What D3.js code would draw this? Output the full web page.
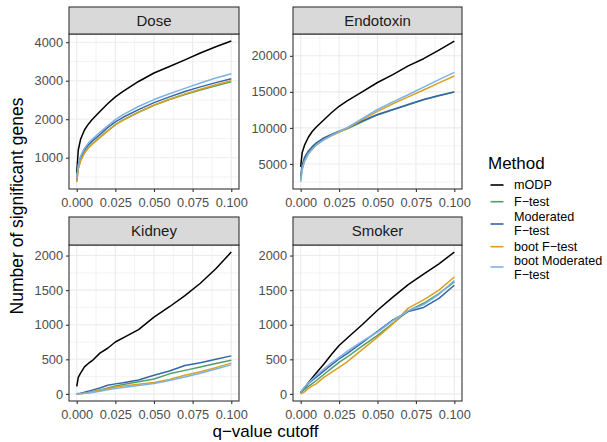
<!DOCTYPE html>
<html><head><meta charset="utf-8">
<script src="https://cdn.jsdelivr.net/npm/d3@7"></script>
<style>html,body{margin:0;padding:0;background:#fff;}svg{display:block;font-family:"Liberation Sans",Arial,Helvetica,sans-serif;}</style>
</head><body>
<svg id="chart" width="607" height="442"></svg>
<script>
const qValues = [0, 0.001, 0.0025, 0.005, 0.0075, 0.01, 0.015, 0.02, 0.025, 0.03, 0.04, 0.05, 0.06, 0.07, 0.08, 0.09, 0.1];
const methods = ["mODP", "F-test", "Moderated F-test", "boot F-test", "boot Moderated F-test"];
const legendLabels = [["mODP"], ["F\u2212test"], ["Moderated", "F\u2212test"], ["boot F\u2212test"], ["boot Moderated", "F\u2212test"]];
const colors = ["#000000", "#4F9E6B", "#3466A8", "#D9A021", "#7DB2E6"];
const panels = ["Dose", "Endotoxin", "Kidney", "Smoker"];
const xTicks = [0, 0.025, 0.05, 0.075, 0.1];
const yTicksDose = [1000, 2000, 3000, 4000];
const yTicksEndotoxin = [5000, 10000, 15000, 20000];
const yTicksKidney = [0, 500, 1000, 1500, 2000];
const yTicksSmoker = [0, 500, 1000, 1500, 2000];

const doseValues = [
  [600, 1200, 1480, 1720, 1870, 1990, 2200, 2400, 2580, 2720, 2980, 3200, 3370, 3540, 3720, 3880, 4030],
  [380, 720, 930, 1130, 1260, 1360, 1530, 1700, 1860, 1980, 2180, 2360, 2510, 2640, 2760, 2870, 2970],
  [450, 800, 1010, 1200, 1330, 1430, 1600, 1780, 1930, 2050, 2250, 2430, 2580, 2720, 2840, 2950, 3050],
  [370, 710, 920, 1120, 1250, 1350, 1520, 1690, 1850, 1975, 2185, 2370, 2520, 2655, 2780, 2895, 3000],
  [480, 820, 1040, 1240, 1380, 1480, 1660, 1830, 1990, 2120, 2330, 2510, 2660, 2800, 2940, 3070, 3180]
];
const endotoxinValues = [
  [4600, 6600, 7600, 8700, 9500, 10100, 11100, 12100, 13000, 13700, 15000, 16300, 17400, 18600, 19600, 20800, 22050],
  [3000, 4700, 5700, 6650, 7250, 7750, 8450, 9000, 9450, 9850, 10850, 11800, 12500, 13200, 13900, 14450, 14980],
  [3200, 4900, 5900, 6800, 7400, 7900, 8600, 9100, 9550, 9950, 10950, 11850, 12550, 13250, 13950, 14500, 15000],
  [2700, 4300, 5400, 6400, 7050, 7600, 8350, 8900, 9400, 9900, 11150, 12300, 13350, 14300, 15250, 16250, 17200],
  [2500, 4200, 5350, 6400, 7050, 7600, 8350, 8950, 9480, 10000, 11300, 12550, 13600, 14600, 15650, 16700, 17700]
];
const kidneyValues = [
  [110, 240, 300, 390, 440, 480, 590, 660, 750, 810, 930, 1110, 1260, 1420, 1600, 1810, 2050],
  [0, 2, 5, 12, 20, 30, 55, 85, 115, 135, 175, 215, 290, 340, 390, 440, 485],
  [0, 5, 10, 25, 40, 55, 85, 125, 145, 160, 200, 270, 330, 410, 450, 500, 550],
  [0, 2, 4, 10, 18, 28, 50, 75, 100, 115, 140, 165, 210, 270, 320, 380, 445],
  [0, 1, 3, 8, 14, 22, 40, 60, 78, 92, 120, 150, 195, 245, 300, 360, 420]
];
const smokerValues = [
  [20, 50, 90, 160, 230, 300, 430, 570, 700, 800, 1000, 1210, 1400, 1580, 1730, 1880, 2050],
  [10, 35, 65, 110, 150, 190, 280, 370, 456, 530, 690, 845, 1020, 1200, 1310, 1450, 1620],
  [20, 50, 90, 150, 195, 240, 330, 420, 505, 580, 740, 905, 1070, 1190, 1250, 1380, 1570],
  [0, 10, 30, 80, 115, 145, 240, 310, 383, 460, 640, 820, 1010, 1240, 1360, 1500, 1690],
  [20, 55, 95, 160, 210, 262, 360, 450, 529, 610, 760, 893, 1060, 1200, 1290, 1440, 1640]
];

const panelData = [doseValues, endotoxinValues, kidneyValues, smokerValues];
const panelTicks = [yTicksDose, yTicksEndotoxin, yTicksKidney, yTicksSmoker];

const svg = d3.select("#chart");
const FONT = '"Liberation Sans",Arial,Helvetica,sans-serif';
const layout = {
  cols: [[69, 239], [293, 462]],
  rows: [{strip: 7, top: 34, bottom: 189}, {strip: 217, top: 245, bottom: 401}]
};

panels.forEach((name, i) => {
  const col = layout.cols[i % 2], row = layout.rows[Math.floor(i / 2)];
  const vals = panelData[i];
  const all = vals.flat();
  const lo = d3.min(all), hi = d3.max(all), pad = (hi - lo) * 0.05;
  const xPad = 0.1 * 0.05;
  const x = d3.scaleLinear().domain([-xPad, 0.1 + xPad]).range([col[0], col[1]]);
  const y = d3.scaleLinear().domain([lo - pad, hi + pad]).range([row.bottom, row.top]);
  const g = svg.append("g");

  g.append("rect").attr("x", col[0]).attr("y", row.top).attr("width", col[1] - col[0]).attr("height", row.bottom - row.top).attr("fill", "#fff");

  const yt = panelTicks[i];
  const step = yt[1] - yt[0];
  const yMinor = [];
  for (let v = yt[0] - step / 2; v <= hi + pad; v += step) if (v >= lo - pad) yMinor.push(v);
  const xMinor = [0.0125, 0.0375, 0.0625, 0.0875];
  g.selectAll(".ymin").data(yMinor).join("line")
    .attr("x1", col[0]).attr("x2", col[1]).attr("y1", d => y(d)).attr("y2", d => y(d))
    .attr("stroke", "#EBEBEB").attr("stroke-width", 0.6);
  g.selectAll(".xmin").data(xMinor).join("line")
    .attr("y1", row.top).attr("y2", row.bottom).attr("x1", d => x(d)).attr("x2", d => x(d))
    .attr("stroke", "#EBEBEB").attr("stroke-width", 0.6);
  g.selectAll(".ymaj").data(yt).join("line")
    .attr("x1", col[0]).attr("x2", col[1]).attr("y1", d => y(d)).attr("y2", d => y(d))
    .attr("stroke", "#EBEBEB").attr("stroke-width", 1.1);
  g.selectAll(".xmaj").data(xTicks).join("line")
    .attr("y1", row.top).attr("y2", row.bottom).attr("x1", d => x(d)).attr("x2", d => x(d))
    .attr("stroke", "#EBEBEB").attr("stroke-width", 1.1);

  const clipId = "clip" + i;
  svg.append("clipPath").attr("id", clipId).append("rect")
    .attr("x", col[0]).attr("y", row.top).attr("width", col[1] - col[0]).attr("height", row.bottom - row.top);
  const line = d3.line().x((d, j) => x(qValues[j])).y(d => y(d));
  g.append("g").attr("clip-path", `url(#${clipId})`).selectAll("path").data(vals).join("path")
    .attr("d", d => line(d)).attr("fill", "none")
    .attr("stroke", (d, k) => colors[k]).attr("stroke-width", 1.5).attr("stroke-linejoin", "round");

  g.append("rect").attr("x", col[0]).attr("y", row.top).attr("width", col[1] - col[0]).attr("height", row.bottom - row.top)
    .attr("fill", "none").attr("stroke", "#333333").attr("stroke-width", 1.1);

  g.append("rect").attr("x", col[0]).attr("y", row.strip).attr("width", col[1] - col[0]).attr("height", row.top - row.strip)
    .attr("fill", "#D9D9D9").attr("stroke", "#333333").attr("stroke-width", 1.1);
  g.append("text").attr("x", (col[0] + col[1]) / 2).attr("y", (row.strip + row.top) / 2 + 5.3)
    .attr("text-anchor", "middle").attr("font-size", 15).attr("fill", "#1A1A1A").text(name);

  const xAxis = d3.axisBottom(x).tickValues(xTicks).tickFormat(d3.format(".3f")).tickSize(3).tickPadding(3);
  const gx = g.append("g").attr("transform", `translate(0,${row.bottom})`).call(xAxis);
  const yAxis = d3.axisLeft(y).tickValues(yt).tickFormat(d3.format("d")).tickSize(3).tickPadding(3);
  const gy = g.append("g").attr("transform", `translate(${col[0]},0)`).call(yAxis);
  [gx, gy].forEach(a => {
    a.select(".domain").remove();
    a.selectAll(".tick line").attr("stroke", "#333333").attr("stroke-width", 1.1);
    a.selectAll(".tick text").attr("fill", "#4D4D4D").attr("font-size", 12.8).attr("font-family", FONT);
  });
  gx.selectAll(".tick text").attr("dy", "0.95em");
});

svg.append("text").attr("x", 265.5).attr("y", 437).attr("text-anchor", "middle")
  .attr("font-size", 17).attr("fill", "#000").text("q\u2212value cutoff");
svg.append("text").attr("transform", "translate(23,206) rotate(-90)").attr("text-anchor", "middle")
  .attr("font-size", 17.5).attr("fill", "#000").text("Number of significant genes");

const legend = svg.append("g");
legend.append("text").attr("x", 488).attr("y", 168.8).attr("font-size", 17).attr("fill", "#000").text("Method");
const keyY = [185, 201.7, 224, 246.7, 267];
const labelYs = [[185], [201.7], [216.7, 230.7], [246.4], [260.6], [275]];
methods.forEach((m, k) => {
  legend.append("line").attr("x1", 490.5).attr("x2", 503.5).attr("y1", keyY[k]).attr("y2", keyY[k])
    .attr("stroke", colors[k]).attr("stroke-width", 1.6);
  legendLabels[k].forEach((t, j) => {
    const ly = k === 4 ? [260.6, 275][j] : labelYs[k][j];
    legend.append("text").attr("x", 514).attr("y", ly + 4.4).attr("font-size", 12.6)
      .attr("fill", "#000").text(t);
  });
});
</script>
</body></html>
